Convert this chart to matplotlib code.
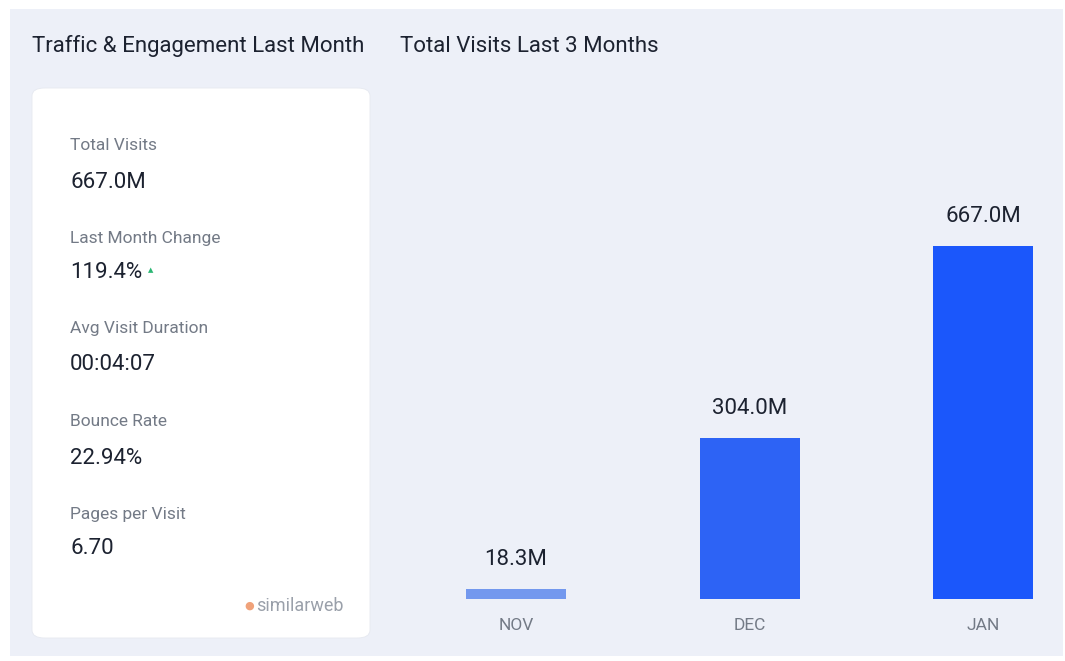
import matplotlib
matplotlib.use("Agg")
import matplotlib.pyplot as plt
from matplotlib.patches import FancyBboxPatch, Rectangle

months = ["NOV", "DEC", "JAN"]
visits = [18.3, 304.0, 667.0]
visit_labels = ["18.3M", "304.0M", "667.0M"]
bar_colors = ["#7398EE", "#2D63F5", "#1B57FB"]

metric_names = ["Total Visits", "Last Month Change", "Avg Visit Duration", "Bounce Rate", "Pages per Visit"]
metric_values = ["667.0M", "119.4%", "00:04:07", "22.94%", "6.70"]

W, H = 1065, 661
fig = plt.figure(figsize=(W / 100, H / 100), dpi=100)
fig.patch.set_facecolor("white")
plt.rcParams["font.family"] = ["Roboto", "DejaVu Sans"]

def fx(x):
    return x / W

def fy(y):
    return 1 - y / H

# background panel
fig.patches.append(Rectangle((fx(10), fy(656)), fx(1053), (647) / H,
                             transform=fig.transFigure, facecolor="#EDF0F8", edgecolor="none", zorder=-2))
# card
fig.patches.append(FancyBboxPatch((fx(32), fy(638)), fx(338), 550 / H,
                                  boxstyle="round,pad=0,rounding_size=0.012",
                                  transform=fig.transFigure, facecolor="white", edgecolor="#E6E9F0",
                                  linewidth=0.6, zorder=-1))

dark = "#1C2230"
gray = "#737A86"
fig.text(fx(32), fy(46), "Traffic & Engagement Last Month", fontsize=16, color=dark, va="center", ha="left")
fig.text(fx(400), fy(46), "Total Visits Last 3 Months", fontsize=16, color=dark, va="center", ha="left")

name_y = [145, 238, 329, 421, 514]
val_y = [183, 273, 365, 458, 549]
for n, v, ny, vy in zip(metric_names, metric_values, name_y, val_y):
    fig.text(fx(70), fy(ny), n, fontsize=12.5, color=gray, va="center", ha="left", zorder=3)
    fig.text(fx(70), fy(vy), v, fontsize=16, color=dark, va="center", ha="left", zorder=3)
# green up triangle
fig.text(fx(151), fy(271), "\u25B2", fontsize=5, color="#2BB673", va="center", ha="center", zorder=3)
# similarweb logo
fig.text(fx(249), fy(606), "\u25CF", fontsize=8, color="#F0A27A", va="center", ha="center", zorder=3)
fig.text(fx(256), fy(606), "similarweb", fontsize=13, color="#9AA0AA", va="center", ha="left", zorder=3)

# bar axes
left_px, right_px = 400, 1050
top_px, base_px = 120, 599
ax = fig.add_axes([fx(left_px), fy(base_px), (right_px - left_px) / W, (base_px - top_px) / H])
ax.set_zorder(5)
ax.patch.set_visible(False)
unit = 233.5
c0 = 516
ax.set_xlim((left_px - c0) / unit, (right_px - c0) / unit)
ax.set_ylim(0, visits[2] * (base_px - top_px) / (base_px - 246))
xs = list(range(len(months)))
ax.bar(xs, visits, width=100 / unit, color=bar_colors, zorder=2)
for x, v, lab in zip(xs, visits, visit_labels):
    ax.annotate(lab, (x, v), xytext=(0, 14), textcoords="offset points",
                ha="center", va="bottom", fontsize=16, color=dark)
ax.set_xticks(xs)
ax.set_xticklabels(months, fontsize=12.5, color=gray)
ax.tick_params(axis="x", length=0, pad=14)
ax.set_yticks([])
for s in ax.spines.values():
    s.set_visible(False)

fig.savefig("out.png", dpi=100, facecolor="white")
